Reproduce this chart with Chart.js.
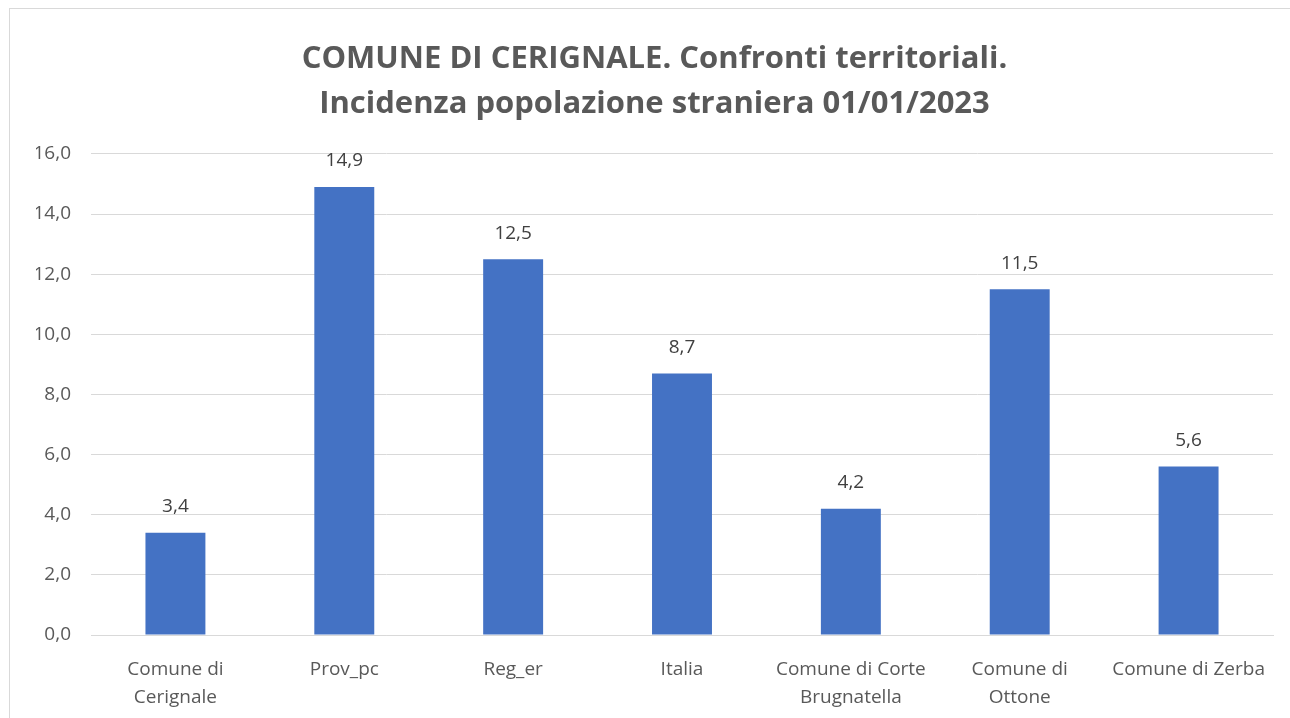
<!DOCTYPE html>
<html>
<head>
<meta charset="utf-8">
<script src="https://cdn.jsdelivr.net/npm/chart.js@4"></script>
<style>
  html, body { margin: 0; padding: 0; background: #fff; overflow: hidden; }
  #frame { position: absolute; left: 9px; top: 8px; width: 1290px; height: 730px; border: 1px solid #d9d9d9; box-sizing: border-box; }
  #wrap { position: absolute; left: 0; top: 0; width: 1290px; height: 718px; }
</style>
</head>
<body>
<div id="frame"></div>
<div id="wrap"><canvas id="chart" width="1290" height="718"></canvas></div>
<script>
/* ===== DATA ===== */
const categories = [
  ['Comune di', 'Cerignale'],
  'Prov_pc',
  'Reg_er',
  'Italia',
  ['Comune di Corte', 'Brugnatella'],
  ['Comune di', 'Ottone'],
  'Comune di Zerba'
];
const values = [3.4, 14.9, 12.5, 8.7, 4.2, 11.5, 5.6];
const titleLines = ['COMUNE DI CERIGNALE. Confronti territoriali.', 'Incidenza popolazione straniera 01/01/2023'];

const FONT = "'Open Sans', 'Noto Sans', sans-serif";
const fmt = v => v.toFixed(1).replace('.', ',');

/* ===== VALUE LABELS ===== */
const valueLabels = {
  id: 'valueLabels',
  afterDatasetsDraw(chart) {
    const ctx = chart.ctx;
    const meta = chart.getDatasetMeta(0);
    ctx.save();
    ctx.font = '19px ' + FONT;
    ctx.fillStyle = '#404040';
    ctx.textAlign = 'center';
    ctx.textBaseline = 'middle';
    meta.data.forEach((bar, i) => {
      ctx.fillText(fmt(values[i]), bar.x, bar.y - 26);
    });
    ctx.restore();
  }
};

new Chart(document.getElementById('chart'), {
  type: 'bar',
  data: {
    labels: categories,
    datasets: [{ data: values, backgroundColor: '#4472c4', barPercentage: 0.71, categoryPercentage: 0.5 }]
  },
  options: {
    responsive: false,
    animation: false,
    // left padding keeps the title centred on the frame, y axis width makes up the rest
    layout: { padding: { top: 37, right: 17, left: 36, bottom: 0 } },
    plugins: {
      legend: { display: false },
      tooltip: { enabled: false },
      title: {
        display: true,
        text: titleLines,
        color: '#595959',
        font: { family: FONT, size: 31, weight: 'bold', lineHeight: 1.45 },
        padding: { top: 0, bottom: 27 }
      }
    },
    scales: {
      x: {
        grid: { display: false },
        border: { color: '#d9d9d9' },
        ticks: { color: '#595959', font: { family: FONT, size: 19, lineHeight: 1.5 }, padding: 12, maxRotation: 0, autoSkip: false },
        afterFit(s) { s.height = 83; }
      },
      y: {
        min: 0, max: 16,
        grid: { color: '#d9d9d9', drawTicks: false },
        border: { display: false },
        ticks: { stepSize: 2, color: '#595959', font: { family: FONT, size: 19 }, padding: 20, callback: v => fmt(v) },
        afterFit(s) { s.width = 55; }
      }
    }
  },
  plugins: [valueLabels]
});
</script>
</body>
</html>
